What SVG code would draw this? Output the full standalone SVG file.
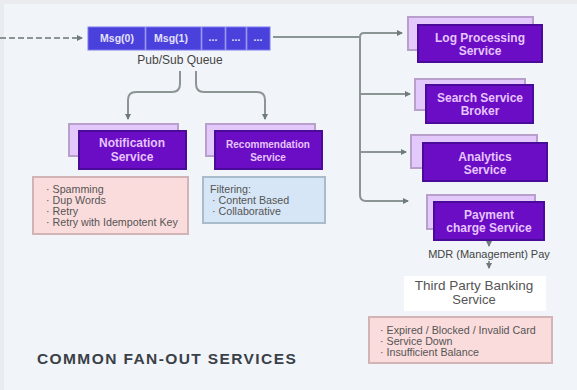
<svg xmlns="http://www.w3.org/2000/svg" width="577" height="390" viewBox="0 0 577 390">
<defs>
<marker id="ah" markerWidth="6" markerHeight="6" refX="5" refY="3" orient="auto" markerUnits="userSpaceOnUse"><path d="M0 0L6 3L0 6Z" fill="#6f7a7c"/></marker>
</defs>
<style>
text{font-family:"Liberation Sans",Arial,sans-serif}
.back{fill:#e3c8fb;stroke:#b9a0cc;stroke-width:2}
.front{fill:#6a0dc4;stroke:#4a0a9a;stroke-width:2}
.svc{fill:#e6c4ff;font-size:12px;font-weight:bold;text-anchor:middle}
.cell{fill:#4a40dc;stroke:#7c78ee;stroke-width:1}
.ct{fill:#e3e1fb;font-size:10.5px;font-weight:bold;text-anchor:middle}
.note{font-size:10.7px;fill:#555}
.lbl{font-size:11px;fill:#444;text-anchor:middle}
.wire{fill:none;stroke:#8b9594;stroke-width:2}
</style>
<rect width="577" height="390" fill="#f1f4f8"/>
<rect width="577" height="4" fill="#e9ebee"/>
<rect y="4" width="4" height="386" fill="#e9ecef"/>
<g id="connectors">
<path class="wire" stroke-dasharray="6 3" d="M0 38H82" marker-end="url(#ah)"/>
<path class="wire" d="M273 37H360"/>
<path class="wire" d="M360 37V195Q360 201 366 201H408" marker-end="url(#ah)"/>
<path class="wire" d="M360 37Q360 33 364 33H402" marker-end="url(#ah)"/>
<path class="wire" d="M360 94H410" marker-end="url(#ah)"/>
<path class="wire" d="M360 152H406" marker-end="url(#ah)"/>
<path class="wire" d="M180 71V84Q180 92 172 92H136Q128 92 128 100V119" marker-end="url(#ah)"/>
<path class="wire" d="M196 71V84Q196 92 204 92H257Q265 92 265 100V119" marker-end="url(#ah)"/>
<path class="wire" d="M489 242V246" marker-end="url(#ah)"/>
<path class="wire" d="M489 261V268" marker-end="url(#ah)"/>
</g>
<g id="queue">
<rect class="cell" x="88" y="27" width="57" height="23"/>
<rect class="cell" x="146" y="27" width="55" height="23"/>
<rect class="cell" x="202" y="27" width="23" height="23"/>
<rect class="cell" x="226" y="27" width="20" height="23"/>
<rect class="cell" x="247" y="27" width="23" height="23"/>
<text class="ct" x="117" y="42">Msg(0)</text>
<text class="ct" x="171" y="42">Msg(1)</text>
<text class="ct" x="213" y="41">...</text>
<text class="ct" x="236" y="41">...</text>
<text class="ct" x="258" y="41">...</text>
<text class="lbl" x="180" y="64" style="font-size:12px">Pub/Sub Queue</text>
</g>
<g id="notification">
<rect class="back" x="69" y="124" width="109" height="32"/>
<rect class="front" x="79" y="131" width="107" height="38"/>
<text class="svc" x="132" y="147">Notification</text>
<text class="svc" x="132" y="161">Service</text>
</g>
<g id="recommendation">
<rect class="back" x="206" y="124" width="109" height="32"/>
<rect class="front" x="215" y="131" width="107" height="38"/>
<text class="svc" x="268" y="148" style="font-size:10px">Recommendation</text>
<text class="svc" x="268" y="161" style="font-size:10px">Service</text>
</g>
<g id="notification-notes">
<rect x="33" y="177" width="155" height="57" fill="#fbdcdc" stroke="#d3b4b6" stroke-width="2"/>
<text class="note" x="46" y="193">· Spamming</text>
<text class="note" x="46" y="204">· Dup Words</text>
<text class="note" x="46" y="215">· Retry</text>
<text class="note" x="46" y="226">· Retry with Idempotent Key</text>
</g>
<g id="recommendation-notes">
<rect x="203" y="177" width="122" height="46" fill="#d6e6f6" stroke="#a9bccb" stroke-width="2"/>
<text class="note" x="210" y="193">Filtering:</text>
<text class="note" x="212" y="204">· Content Based</text>
<text class="note" x="212" y="215">· Collaborative</text>
</g>
<g id="log">
<rect class="back" x="408" y="17" width="125" height="33"/>
<rect class="front" x="418" y="25" width="124" height="37"/>
<text class="svc" x="480" y="42">Log Processing</text>
<text class="svc" x="480" y="55">Service</text>
</g>
<g id="search">
<rect class="back" x="415" y="79" width="110" height="31"/>
<rect class="front" x="426" y="85" width="107" height="38"/>
<text class="svc" x="480" y="102">Search Service</text>
<text class="svc" x="480" y="115">Broker</text>
</g>
<g id="analytics">
<rect class="back" x="411" y="135" width="126" height="33"/>
<rect class="front" x="423" y="143" width="124" height="38"/>
<text class="svc" x="485" y="161">Analytics</text>
<text class="svc" x="485" y="174">Service</text>
</g>
<g id="payment">
<rect class="back" x="427" y="195" width="108" height="34"/>
<rect class="front" x="434" y="202" width="110" height="38"/>
<text class="svc" x="489" y="219">Payment</text>
<text class="svc" x="489" y="232">charge Service</text>
</g>
<g id="mdr"><text class="lbl" x="489" y="258">MDR (Management) Pay</text></g>
<g id="third-party">
<rect x="404" y="276" width="142" height="35" fill="#fff"/>
<text x="474" y="290" style="font-size:13.5px;fill:#555;text-anchor:middle">Third Party Banking</text>
<text x="474" y="304" style="font-size:13px;fill:#555;text-anchor:middle">Service</text>
</g>
<g id="payment-notes">
<rect x="369" y="317" width="183" height="46" fill="#fbdcdc" stroke="#d3b4b6" stroke-width="2"/>
<text class="note" x="380" y="334">· Expired / Blocked / Invalid Card</text>
<text class="note" x="380" y="345">· Service Down</text>
<text class="note" x="380" y="356">· Insufficient Balance</text>
</g>
<text x="37" y="364" style="font-size:15.5px;font-weight:bold;fill:#3a4048;letter-spacing:1.4px">COMMON FAN-OUT SERVICES</text>
</svg>
